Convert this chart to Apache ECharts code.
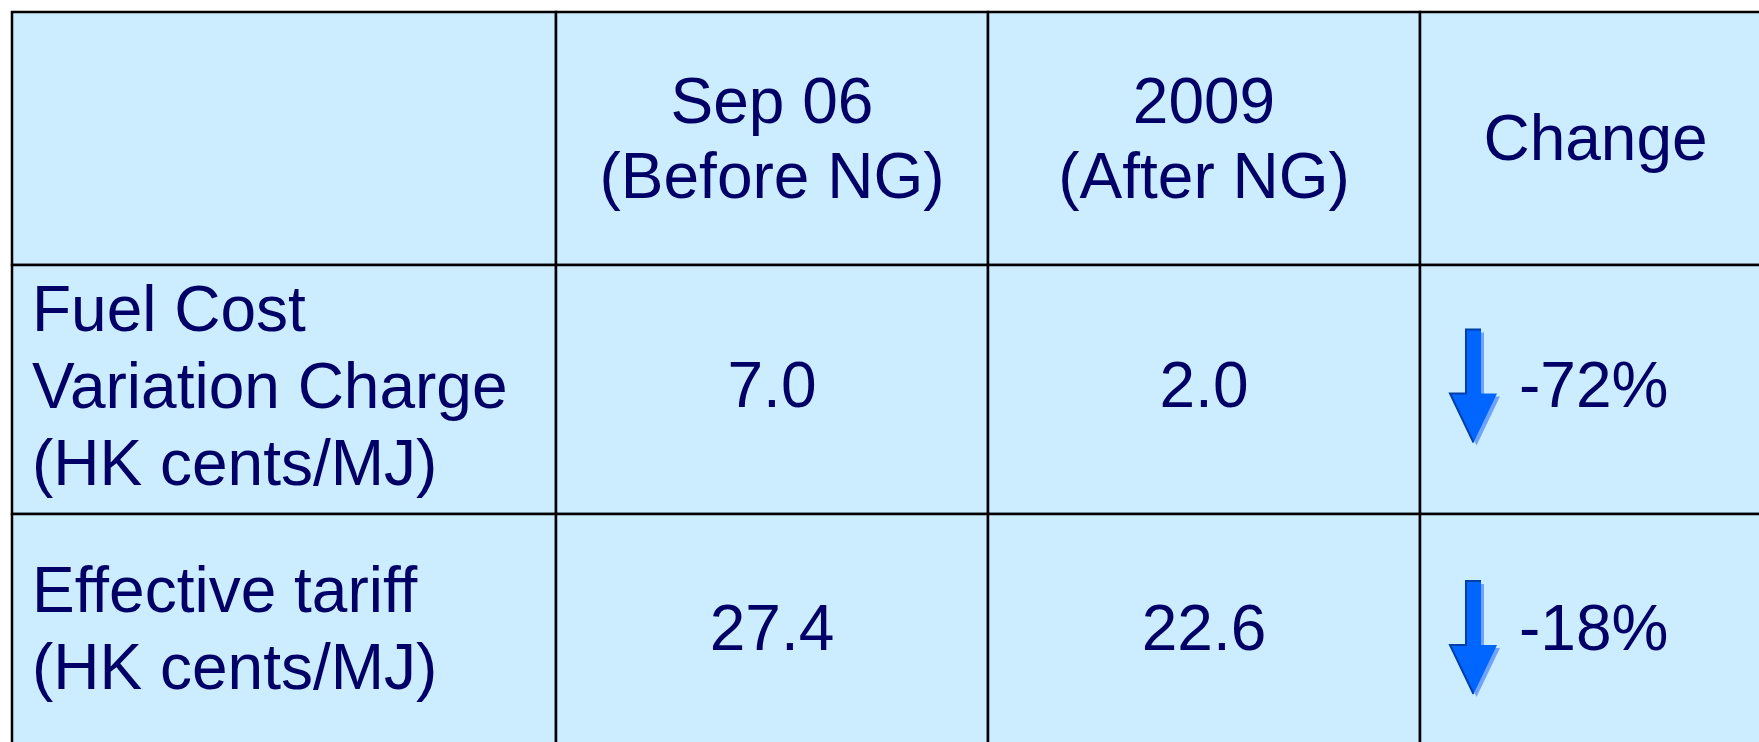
<!DOCTYPE html>
<html>
<head>
<meta charset="utf-8">
<script src="https://cdn.jsdelivr.net/npm/echarts@6/dist/echarts.min.js"></script>
<style>
  html, body { margin: 0; padding: 0; background: #ffffff; }
  #chart { width: 1759px; height: 742px; }
</style>
</head>
<body>
<div id="chart"></div>
<script>
// ---- data ----
const headers = ['', 'Sep 06\n(Before NG)', '2009\n(After NG)', 'Change'];
const rowLabels = ['Fuel Cost\nVariation Charge\n(HK cents/MJ)', 'Effective tariff\n(HK cents/MJ)'];
const beforeNG = [7.0, 27.4];
const afterNG = [2.0, 22.6];
const changePct = [-72, -18];

// ---- layout (positions / styles, not data) ----
const colEdges = [12, 556, 988, 1420, 1771];
const rowEdges = [12, 265, 514, 750];
const arrowTopOffset = [-60, -51];
const FONT = '64px "Liberation Sans", Arial, sans-serif';
const TEXT_COLOR = '#000066';
const CELL_FILL = '#CCECFF';

const tableRows = [{ type: 'header', cells: headers }];
for (let i = 0; i < rowLabels.length; i++) {
  tableRows.push({
    type: 'body', idx: i,
    cells: [rowLabels[i], beforeNG[i].toFixed(1), afterNG[i].toFixed(1), changePct[i] + '%'],
    change: changePct[i]
  });
}

function renderItem(params, api) {
  const r = params.dataIndex;
  const row = tableRows[r];
  const y0 = rowEdges[r], y1 = rowEdges[r + 1];
  const cy = (y0 + y1) / 2;
  const children = [];
  for (let c = 0; c < 4; c++) {
    const x0 = colEdges[c], x1 = colEdges[c + 1];
    children.push({
      type: 'rect',
      shape: { x: x0, y: y0, width: x1 - x0, height: y1 - y0 },
      style: { fill: CELL_FILL, stroke: '#000000', lineWidth: 2.5 },
      z2: 0
    });
  }
  for (let c = 0; c < 4; c++) {
    const x0 = colEdges[c], x1 = colEdges[c + 1];
    const txt = row.cells[c];
    if (!txt) continue;
    if (row.type === 'body' && c === 0) {
      children.push({
        type: 'text', z2: 5,
        style: { text: txt, x: x0 + 20, y: cy + 1, align: 'left', verticalAlign: 'middle',
                 font: FONT, fill: TEXT_COLOR, lineHeight: 77 }
      });
    } else if (row.type === 'body' && c === 3) {
      const ax = x0 + 30;
      const ay = cy + arrowTopOffset[row.idx];
      const pts = [[16, 0], [31, 0], [31, 64], [47, 64], [23.5, 113], [0, 64], [16, 64]];
      const abs = (dx, dy) => pts.map(p => [ax + p[0] + dx, ay + p[1] + dy]);
      children.push({ type: 'polygon', z2: 3, shape: { points: abs(3, 3) }, style: { fill: '#6FA3FF' } });
      children.push({ type: 'polygon', z2: 4, shape: { points: abs(0, 0) }, style: { fill: '#0066FF' } });
      children.push({
        type: 'polyline', z2: 4,
        shape: { points: [[23.5, 113], [0, 64], [16, 64], [16, 0], [31, 0]].map(p => [ax + p[0], ay + p[1]]) },
        style: { stroke: '#003FA8', lineWidth: 2, fill: null }
      });
      children.push({
        type: 'text', z2: 5,
        style: { text: txt, x: x0 + 99, y: cy, align: 'left', verticalAlign: 'middle',
                 font: FONT, fill: TEXT_COLOR }
      });
    } else {
      children.push({
        type: 'text', z2: 5,
        style: { text: txt, x: (x0 + x1) / 2, y: cy + (row.type === 'header' ? 4 : 0),
                 align: 'center', verticalAlign: 'middle',
                 font: FONT, fill: TEXT_COLOR, lineHeight: 75 }
      });
    }
  }
  return { type: 'group', children: children };
}

const chart = echarts.init(document.getElementById('chart'), null, { renderer: 'canvas' });
chart.setOption({
  backgroundColor: '#ffffff',
  animation: false,
  series: [{
    type: 'custom',
    coordinateSystem: 'none',
    renderItem: renderItem,
    data: tableRows.map((r, i) => [i])
  }]
});
</script>
</body>
</html>
